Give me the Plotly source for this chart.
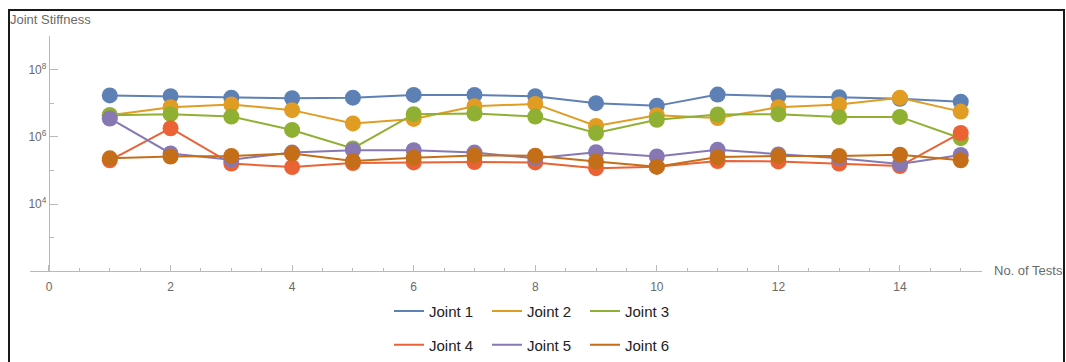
import plotly.graph_objects as go

# Test number on the horizontal axis
tests = list(range(1, 16))

# Stiffness estimates per joint, one value per test
joint1 = [1.7e7, 1.6e7, 1.45e7, 1.4e7, 1.45e7, 1.75e7, 1.75e7, 1.6e7, 1.0e7, 8.3e6, 1.8e7, 1.6e7, 1.5e7, 1.35e7, 1.1e7]
joint2 = [4.4e6, 7.6e6, 9.1e6, 6.2e6, 2.5e6, 3.4e6, 8.1e6, 9.5e6, 2.1e6, 4.4e6, 3.6e6, 7.6e6, 9.1e6, 1.45e7, 5.6e6]
joint3 = [4.4e6, 4.7e6, 4.0e6, 1.6e6, 4.5e5, 4.7e6, 4.9e6, 4.0e6, 1.3e6, 3.2e6, 4.6e6, 4.7e6, 3.9e6, 3.9e6, 9.1e5]
joint4 = [2.0e5, 1.8e6, 1.6e5, 1.26e5, 1.66e5, 1.74e5, 1.78e5, 1.74e5, 1.17e5, 1.3e5, 1.9e5, 1.86e5, 1.6e5, 1.35e5, 1.3e6]
joint5 = [3.5e6, 3.2e5, 2.1e5, 3.4e5, 4.0e5, 4.0e5, 3.4e5, 2.3e5, 3.5e5, 2.6e5, 4.1e5, 3.0e5, 2.3e5, 1.55e5, 2.9e5]
joint6 = [2.3e5, 2.6e5, 2.7e5, 3.2e5, 1.9e5, 2.4e5, 2.8e5, 2.75e5, 1.86e5, 1.3e5, 2.5e5, 2.7e5, 2.7e5, 2.95e5, 2.0e5]

series_names = ["Joint 1", "Joint 2", "Joint 3", "Joint 4", "Joint 5", "Joint 6"]
series_values = [joint1, joint2, joint3, joint4, joint5, joint6]
series_colors = ["#5e81b5", "#e19c24", "#8fb032", "#eb6235", "#8778b3", "#c56e1a"]

# y tick labels
major_exps = [4, 6, 8]
minor_exps = [3, 5, 7, 9]

W, H = 1066, 362
axis_grey = "#b9b9b9"
label_grey = "#6a6a6a"
font_family = "Liberation Sans, Arial, sans-serif"

fig = go.Figure()
for i, (name, vals, col) in enumerate(zip(series_names, series_values, series_colors)):
    group = "legend" if i < 3 else "legend2"
    # connecting line (this trace carries the legend entry, so the key shows a plain line)
    fig.add_trace(go.Scatter(
        x=tests, y=vals, name=name, mode="lines",
        line=dict(color=col, width=2),
        legend=group, legendgroup=name,
    ))
    # point markers on top of the line
    fig.add_trace(go.Scatter(
        x=tests, y=vals, name=name, mode="markers",
        marker=dict(color=col, size=16),
        legend=group, legendgroup=name, showlegend=False,
    ))

def px_x(p):
    return p / W

def px_y(p):
    return 1 - p / H

legend_common = dict(
    orientation="h", xanchor="left", yanchor="middle",
    font=dict(size=15, color="#222222"), entrywidth=53, bgcolor="rgba(0,0,0,0)",
    itemwidth=30,
)

fig.update_layout(
    width=W, height=H,
    margin=dict(l=0, r=0, t=0, b=0),
    paper_bgcolor="white", plot_bgcolor="white",
    font=dict(family=font_family, size=12, color=label_grey),
    xaxis=dict(
        domain=[px_x(30), px_x(982)], range=[-0.3125, 15.35],
        showgrid=False, zeroline=False,
        showline=True, linecolor=axis_grey, linewidth=1.3,
        ticks="inside", ticklen=6, tickcolor=axis_grey, tickwidth=1,
        tickvals=[0, 2, 4, 6, 8, 10, 12, 14],
        minor=dict(dtick=0.5, tick0=0, ticks="inside", ticklen=3, tickcolor=axis_grey),
        tickfont=dict(size=12, color=label_grey),
        ticklabelstandoff=4,
        anchor="y",
    ),
    yaxis=dict(
        type="log", domain=[px_y(273), px_y(36)], range=[2, 9],
        anchor="free", position=px_x(49),
        showgrid=False, zeroline=False,
        showline=True, linecolor=axis_grey, linewidth=1.3,
        ticks="inside", ticklen=8, tickcolor=axis_grey, tickwidth=1,
        tickvals=[10 ** e for e in major_exps],
        ticktext=["10<sup>%d</sup>" % e for e in major_exps],
        minor=dict(tickvals=[10 ** e for e in minor_exps], ticks="inside", ticklen=4, tickcolor=axis_grey),
        tickfont=dict(size=12, color=label_grey),
    ),
    showlegend=True,
    legend=dict(legend_common, x=px_x(389), y=px_y(313)),
    legend2=dict(legend_common, x=px_x(389), y=px_y(347)),
    annotations=[
        dict(text="Joint Stiffness", x=px_x(8), y=px_y(20), xref="paper", yref="paper",
             xanchor="left", yanchor="middle", showarrow=False,
             font=dict(size=13, color=label_grey)),
        dict(text="No. of Tests", x=px_x(992), y=px_y(272), xref="paper", yref="paper",
             xanchor="left", yanchor="middle", showarrow=False,
             font=dict(size=13, color=label_grey)),
    ],
    shapes=[
        dict(type="rect", xref="paper", yref="paper",
             x0=px_x(9), x1=px_x(1064), y0=-0.1, y1=px_y(10),
             line=dict(color="#1a1a1a", width=2), fillcolor="rgba(0,0,0,0)", layer="above"),
    ],
)

fig.write_html("out.html")
